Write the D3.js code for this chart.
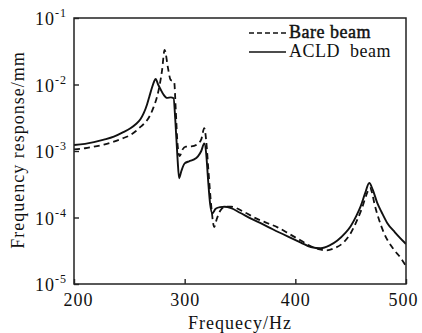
<!DOCTYPE html>
<html><head><meta charset="utf-8">
<script src="https://cdn.jsdelivr.net/npm/d3@7"></script>
<style>
body{margin:0;background:#fff;}
text{font-family:"Liberation Serif","Times New Roman",serif;fill:#111;}
</style></head>
<body><svg id="c" width="422" height="333"></svg>
<script>
// Data
const bareFreq = [200,210,218,227,236,244,251,256,260,265,269,272,275,277.5,279.5,281.9,284.9,287.3,290.5,292,293.5,295.5,298,301,306,311,315,317.7,319.5,321.5,324,326.7,329,332,336.4,342,354,365,375,384,395,405,414,421,428,436,443.5,450,456,460,463.8,467.4,469.5,471.3,475,480,489,495,500];
const bareResp = [1.06e-3,1.1e-3,1.16e-3,1.25e-3,1.38e-3,1.55e-3,1.74e-3,2.0e-3,2.3e-3,2.75e-3,3.5e-3,4.6e-3,6.5e-3,1.0e-2,1.6e-2,3.3e-2,1.78e-2,1.17e-2,1.1e-2,4e-3,1.3e-3,8.4e-4,1.05e-3,1.16e-3,1.17e-3,1.25e-3,1.5e-3,2.2e-3,1.4e-3,5e-4,1.5e-4,7.2e-5,9.5e-5,1.25e-4,1.45e-4,1.45e-4,1.2e-4,9.6e-5,8.2e-5,7.1e-5,5.6e-5,4.5e-5,3.7e-5,3.35e-5,3.2e-5,3.5e-5,4.2e-5,5.8e-5,9.3e-5,1.35e-4,2.1e-4,2.8e-4,2.3e-4,1.66e-4,1.0e-4,5.9e-5,3.3e-5,2.5e-5,1.86e-5];
const acldFreq = [200,210,218,227,236,244,251,256,260,263,266,268,270.5,272.5,273.8,276,278.3,281,284,287.5,290,291.5,293.5,295,297,300,304,308,312,315,317.7,319.5,321,323,325,328,332,336,342,350,360,370,380,393,405,414,423,431,438,445,450,455,459,463,466.8,470,474,478,483,490,500];
const acldResp = [1.23e-3,1.28e-3,1.36e-3,1.48e-3,1.64e-3,1.9e-3,2.2e-3,2.55e-3,3.0e-3,3.7e-3,5.0e-3,6.5e-3,9.0e-3,1.12e-2,1.21e-2,1.0e-2,8.4e-3,7.0e-3,6.3e-3,6.4e-3,6.2e-3,3e-3,8e-4,3.9e-4,5.0e-4,6.5e-4,7.0e-4,7.4e-4,8.3e-4,1.0e-3,1.3e-3,9e-4,4e-4,1.6e-4,1.16e-4,1.35e-4,1.43e-4,1.45e-4,1.38e-4,1.18e-4,9.6e-5,8.0e-5,6.6e-5,5.2e-5,4.2e-5,3.6e-5,3.45e-5,3.8e-5,4.5e-5,5.8e-5,7.4e-5,1.05e-4,1.47e-4,2.3e-4,3.3e-4,2.6e-4,1.66e-4,1.2e-4,8.3e-5,6.0e-5,4.0e-5];
const xTicks = [200,300,400,500];
const yTicks = [1e-5,1e-4,1e-3,1e-2,1e-1];
const yTickExp = ["-5","-4","-3","-2","-1"];
const seriesNames = ["Bare beam","ACLD  beam"];

const svg = d3.select("#c");
const L=74,R=406,T=18,B=284;
const x = d3.scaleLinear().domain([200,500]).range([L,R]);
const y = d3.scaleLog().domain([1e-5,1e-1]).range([B,T]);

svg.append("clipPath").attr("id","clip").append("rect").attr("x",L).attr("y",T).attr("width",R-L).attr("height",B-T);

const line = d3.line().x(d=>x(d[0])).y(d=>y(d[1])).curve(d3.curveMonotoneX);
const g = svg.append("g").attr("clip-path","url(#clip)");
g.append("path").datum(bareFreq.map((f,i)=>[f,bareResp[i]]))
 .attr("d",line).attr("fill","none").attr("stroke","#111").attr("stroke-width",1.8).attr("stroke-dasharray","6,4");
g.append("path").datum(acldFreq.map((f,i)=>[f,acldResp[i]]))
 .attr("d",line).attr("fill","none").attr("stroke","#111").attr("stroke-width",1.9);

// frame
svg.append("rect").attr("x",L).attr("y",T).attr("width",R-L).attr("height",B-T).attr("fill","none").attr("stroke","#222").attr("stroke-width",1.5);

// x axis
const xa = svg.append("g").attr("transform",`translate(0,${B})`)
 .call(d3.axisBottom(x).tickValues(xTicks).tickSizeInner(-5).tickSizeOuter(0).tickPadding(9).tickFormat(d3.format("d")));
xa.select(".domain").remove();
xa.selectAll("line").attr("stroke","#222").attr("stroke-width",1.4);
xa.selectAll("text").attr("font-size",18).attr("letter-spacing","1px").attr("font-family","Liberation Serif").attr("fill","#111");
xa.selectAll(".tick").filter(d=>d===200).select("text").attr("dx",4);
xa.selectAll(".tick").filter(d=>d===500).select("text").attr("dx",-3);

// y axis
const ya = svg.append("g").attr("transform",`translate(${L},0)`)
 .call(d3.axisLeft(y).tickValues(yTicks).tickSizeInner(-5).tickSizeOuter(0).tickFormat(""));
ya.select(".domain").remove();
ya.selectAll("line").attr("stroke","#222").attr("stroke-width",1.4);
yTicks.forEach((v,i)=>{
  const t = svg.append("text").attr("x",67).attr("y",y(v)+7).attr("text-anchor","end")
   .attr("font-size",18).attr("letter-spacing","1px");
  t.append("tspan").text("10");
  t.append("tspan").attr("font-size",12).attr("dy",-8).text(yTickExp[i]);
});

// titles
svg.append("text").attr("x",240).attr("y",329).attr("text-anchor","middle").attr("font-size",18).attr("letter-spacing","1px").text("Frequecy/Hz");
svg.append("text").attr("transform","translate(24,150) rotate(-90)").attr("text-anchor","middle").attr("font-size",18).attr("letter-spacing","1px").text("Frequency response/mm");

// legend
const leg = svg.append("g");
seriesNames.forEach((n,i)=>{
  const yy = 33 + i*19;
  leg.append("line").attr("x1",249).attr("x2",286).attr("y1",yy).attr("y2",yy)
   .attr("stroke","#111").attr("stroke-width",1.6).attr("stroke-dasharray",i===0?"5,3":null);
  leg.append("text").attr("x",289).attr("y",yy+5).attr("font-size",18).attr("letter-spacing","0.5px")
   .attr("stroke",i===0?"#111":"none").attr("stroke-width",0.45)
   .attr("xml:space","preserve").text(n);
});
</script></body></html>
